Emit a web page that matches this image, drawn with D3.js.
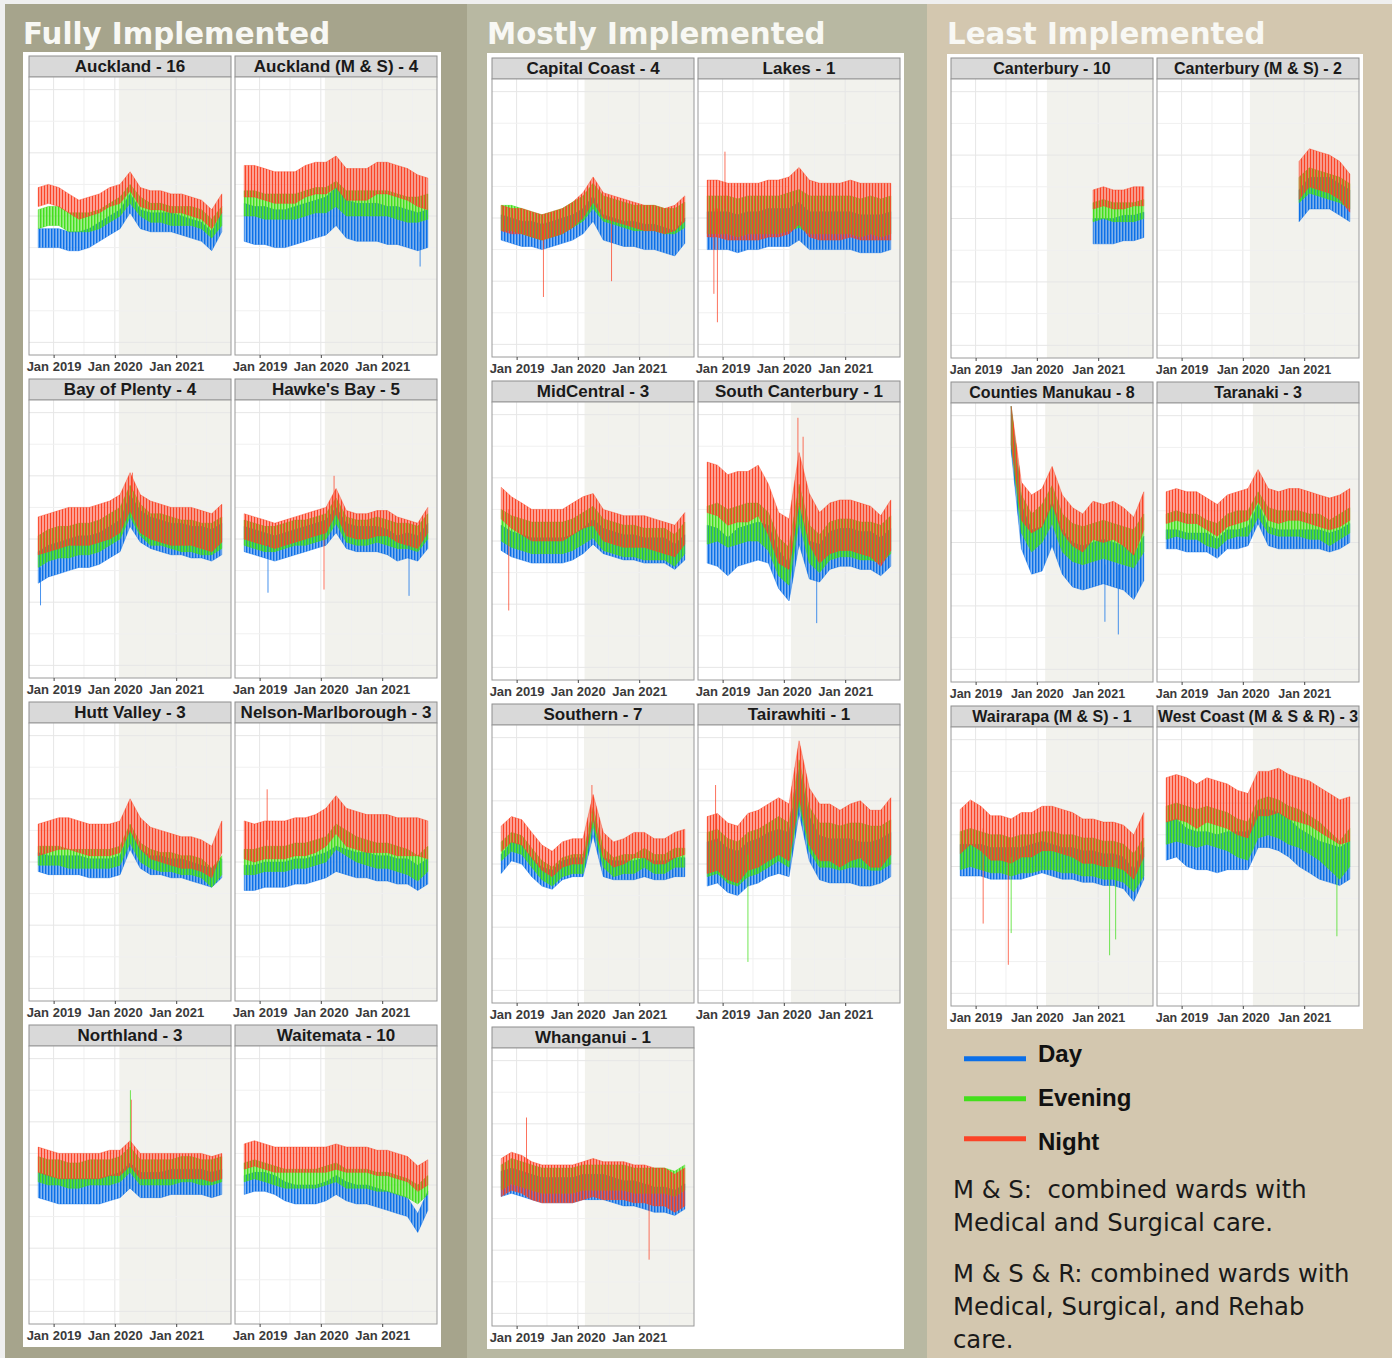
<!DOCTYPE html>
<meta charset="utf-8">
<script src="https://cdn.jsdelivr.net/npm/d3@7/dist/d3.min.js"></script>
<style>
  body { margin: 0; background: #efefef; }
  svg { display: block; }
</style>
<div id="chart"></div>
<script>
  // sample dates (every two months), shifts, axis ticks
  const dates = ["2018-10-01", "2018-12-01", "2019-02-01", "2019-04-01", "2019-06-01", "2019-08-01",
    "2019-10-01", "2019-12-01", "2020-02-01", "2020-04-01", "2020-06-01", "2020-08-01", "2020-10-01",
    "2020-12-01", "2021-02-01", "2021-04-01", "2021-06-01", "2021-08-01", "2021-09-30"];
  const shifts = ["Day", "Evening", "Night"];
  const tickDates = ["2019-01-01", "2020-01-01", "2021-01-01"];
  const tickLabels = ["Jan 2019", "Jan 2020", "Jan 2021"];
  const groups = ["Fully Implemented", "Mostly Implemented", "Least Implemented"];

  const facets = ["Auckland - 16", "Auckland (M & S) - 4", "Bay of Plenty - 4", "Hawke's Bay - 5",
    "Hutt Valley - 3", "Nelson-Marlborough - 3", "Northland - 3", "Waitemata - 10",
    "Capital Coast - 4", "Lakes - 1", "MidCentral - 3", "South Canterbury - 1", "Southern - 7",
    "Tairawhiti - 1", "Whanganui - 1",
    "Canterbury - 10", "Canterbury (M & S) - 2", "Counties Manukau - 8", "Taranaki - 3",
    "Wairarapa (M & S) - 1", "West Coast (M & S & R) - 3"];
  const facetGroup = [0, 0, 0, 0, 0, 0, 0, 0, 1, 1, 1, 1, 1, 1, 1, 2, 2, 2, 2, 2, 2];
  const implStart = ["2020-01-25", "2020-01-25", "2020-01-25", "2020-01-25", "2020-01-25", "2020-01-25",
    "2020-01-28", "2020-01-25", "2020-02-10", "2020-02-03", "2020-02-10", "2020-02-12", "2020-02-07",
    "2020-02-12", "2020-02-12", "2020-03-01", "2020-02-12", "2020-02-20", "2020-03-01", "2020-02-25",
    "2020-03-01"];

  const n = null;
  // centre of each shift's band, per facet
  const day = [
    [33, 33, 33, 32, 32, 33, 35, 37, 39, 44, 39, 38, 38, 38, 37, 36, 35, 32, 38],
    [38, 37, 37, 36, 36, 37, 38, 39, 40, 43, 39, 38, 38, 38, 37, 37, 36, 35, 36],
    [31, 33, 34, 35, 36, 36, 37, 39, 41, 49, 44, 42, 41, 40, 40, 39, 39, 38, 40],
    [40, 39, 38, 37, 38, 39, 40, 41, 42, 46, 41, 40, 40, 40, 39, 37, 38, 37, 41],
    [40, 39, 39, 39, 39, 38, 38, 38, 39, 47, 41, 39, 39, 38, 38, 37, 36, 35, 38],
    [35, 35, 36, 36, 36, 37, 37, 38, 39, 41, 40, 39, 39, 38, 38, 37, 37, 35, 37],
    [40, 39, 38, 38, 38, 38, 38, 39, 40, 43, 40, 40, 40, 41, 41, 41, 41, 40, 41],
    [40, 41, 41, 40, 38, 37, 37, 37, 38, 40, 38, 37, 37, 36, 35, 34, 33, 28, 35],
    [37, 36, 35, 35, 34, 35, 36, 37, 39, 43, 37, 36, 35, 35, 34, 34, 33, 32, 36],
    [36, 36, 36, 35, 36, 36, 37, 37, 37, 39, 36, 36, 36, 36, 36, 35, 35, 35, 36],
    [41, 39, 38, 37, 37, 37, 37, 38, 40, 43, 40, 39, 38, 38, 37, 37, 37, 35, 38],
    [39, 38, 35, 38, 39, 40, 39, 31, 27, 45, 34, 33, 37, 38, 38, 37, 37, 35, 38],
    [40, 44, 43, 39, 36, 35, 38, 39, 39, 52, 39, 38, 38, 38, 39, 38, 38, 39, 39],
    [40, 41, 38, 37, 40, 41, 43, 44, 43, 63, 48, 42, 41, 41, 41, 40, 40, 41, 43],
    [41, 42, 41, 40, 39, 39, 39, 39, 40, 40, 40, 39, 38, 38, 37, 36, 36, 35, 37],
    [n, n, n, n, n, n, n, n, n, n, n, n, n, 36, 36, 36, 37, 37, 38],
    [n, n, n, n, n, n, n, n, n, n, n, n, n, 44, 48, 48, 48, 46, 44],
    [n, n, n, n, n, 76, 45, 37, 38, 46, 37, 33, 32, 33, 34, 33, 32, 29, 35],
    [41, 41, 40, 40, 40, 38, 41, 41, 42, 49, 42, 41, 41, 41, 41, 41, 40, 41, 43],
    [42, 42, 42, 41, 41, 41, 41, 42, 43, 42, 41, 41, 40, 40, 39, 39, 38, 34, 41],
    [48, 49, 46, 45, 45, 44, 45, 45, 45, 52, 52, 51, 49, 46, 44, 42, 41, 40, 42]
  ];
  const evening = [
    [39, 40, 40, 38, 38, 38, 39, 41, 43, 47, 43, 41, 41, 40, 40, 40, 39, 36, 40],
    [44, 44, 43, 43, 43, 43, 44, 45, 45, 47, 44, 44, 44, 44, 44, 43, 42, 42, 43],
    [36, 38, 39, 39, 40, 40, 41, 43, 45, 52, 46, 43, 43, 42, 41, 41, 40, 40, 42],
    [42, 41, 40, 40, 41, 42, 42, 43, 44, 49, 43, 42, 42, 43, 42, 41, 41, 40, 44],
    [42, 42, 42, 41, 41, 41, 41, 41, 42, 49, 43, 41, 40, 40, 39, 39, 38, 35, 39],
    [40, 40, 41, 41, 41, 42, 42, 43, 44, 48, 46, 44, 43, 42, 42, 41, 40, 38, 41],
    [45, 44, 44, 43, 43, 44, 44, 44, 45, 48, 44, 44, 44, 44, 45, 45, 44, 44, 45],
    [44, 45, 44, 43, 42, 42, 42, 42, 43, 44, 42, 42, 42, 41, 41, 40, 39, 37, 40],
    [40, 40, 39, 38, 37, 38, 39, 41, 43, 47, 43, 42, 41, 40, 40, 40, 39, 39, 41],
    [41, 41, 41, 40, 41, 41, 41, 41, 42, 43, 41, 41, 41, 41, 41, 40, 41, 40, 41],
    [45, 43, 42, 41, 41, 41, 41, 42, 44, 46, 42, 41, 40, 40, 39, 39, 39, 37, 41],
    [45, 46, 44, 45, 46, 46, 43, 35, 32, 52, 39, 36, 40, 41, 41, 40, 40, 39, 42],
    [44, 47, 46, 42, 38, 36, 39, 40, 40, 55, 42, 39, 40, 40, 42, 40, 40, 42, 42],
    [43, 44, 41, 40, 43, 44, 46, 48, 46, 66, 51, 46, 46, 45, 46, 46, 45, 45, 47],
    [43, 45, 44, 43, 42, 42, 42, 42, 43, 43, 43, 43, 43, 42, 42, 42, 42, 41, 43],
    [n, n, n, n, n, n, n, n, n, n, n, n, n, 42, 43, 42, 42, 42, 43],
    [n, n, n, n, n, n, n, n, n, n, n, n, n, 49, 52, 51, 50, 49, 47],
    [n, n, n, n, n, 77, 49, 43, 46, 52, 43, 40, 39, 40, 41, 40, 39, 38, 43],
    [45, 46, 45, 45, 43, 42, 45, 46, 46, 52, 47, 46, 46, 46, 45, 45, 43, 45, 47],
    [45, 46, 45, 44, 44, 43, 44, 44, 45, 45, 44, 44, 43, 43, 42, 42, 41, 38, 43],
    [53, 54, 53, 52, 53, 52, 51, 49, 48, 55, 56, 55, 53, 52, 50, 48, 45, 42, 46]
  ];
  const night = [
    [46, 47, 46, 44, 42, 43, 44, 46, 47, 51, 46, 45, 45, 44, 44, 43, 42, 39, 44],
    [51, 51, 50, 49, 49, 49, 51, 52, 52, 54, 50, 50, 50, 52, 52, 51, 50, 48, 47],
    [41, 42, 43, 44, 44, 44, 45, 46, 48, 55, 48, 46, 45, 44, 44, 44, 43, 42, 45],
    [44, 43, 42, 41, 42, 43, 44, 45, 46, 52, 45, 44, 44, 45, 45, 43, 42, 41, 46],
    [47, 48, 49, 49, 48, 47, 47, 47, 48, 55, 49, 46, 45, 44, 43, 43, 42, 40, 48],
    [47, 46, 47, 47, 47, 48, 48, 49, 51, 55, 51, 50, 49, 49, 49, 48, 48, 48, 47],
    [48, 47, 46, 46, 46, 46, 46, 47, 47, 50, 46, 46, 46, 46, 46, 46, 46, 45, 46],
    [49, 50, 49, 48, 48, 48, 48, 48, 48, 49, 48, 48, 48, 47, 47, 46, 45, 42, 44],
    [40, 39, 39, 38, 37, 38, 39, 41, 44, 49, 44, 43, 42, 41, 40, 40, 39, 40, 43],
    [43, 43, 42, 42, 42, 42, 43, 43, 44, 47, 43, 42, 42, 42, 43, 42, 42, 42, 42],
    [52, 49, 47, 45, 45, 45, 45, 47, 49, 50, 45, 44, 43, 43, 43, 42, 41, 40, 44],
    [57, 56, 53, 54, 54, 56, 50, 41, 39, 60, 47, 41, 44, 45, 45, 44, 43, 40, 45],
    [48, 51, 50, 46, 42, 40, 43, 44, 44, 58, 46, 43, 44, 46, 46, 44, 44, 46, 47],
    [46, 47, 44, 43, 47, 48, 50, 52, 50, 70, 55, 50, 50, 48, 50, 51, 48, 48, 52],
    [43, 45, 44, 42, 41, 41, 41, 41, 42, 43, 42, 42, 42, 41, 41, 40, 40, 38, 40],
    [n, n, n, n, n, n, n, n, n, n, n, n, n, 46, 47, 46, 46, 47, 47],
    [n, n, n, n, n, n, n, n, n, n, n, n, n, 52, 56, 55, 54, 52, 48],
    [n, n, n, n, n, 77, 53, 49, 51, 58, 49, 45, 43, 47, 46, 47, 45, 42, 50],
    [51, 52, 51, 51, 49, 47, 50, 51, 52, 58, 52, 51, 52, 52, 51, 50, 49, 50, 52],
    [51, 54, 52, 49, 49, 48, 50, 50, 52, 52, 51, 50, 48, 48, 47, 47, 46, 43, 50],
    [61, 62, 61, 59, 61, 60, 59, 57, 56, 63, 63, 64, 62, 61, 60, 58, 56, 54, 55]
  ];
  // half-height of the day-to-day spread: [Day, Evening, Night]
  const spread = [[3, 3, 3], [6, 4, 5], [5, 5, 6], [4, 4, 4], [3, 3, 5], [4, 4, 6], [4, 4, 4],
    [3, 3, 4], [4, 4, 4], [6, 6, 9], [4, 5, 5], [6, 6, 8], [3, 3, 4], [7, 7, 9], [4, 4, 6],
    [4, 3, 3], [5, 4, 6], [7, 6, 6], [3, 4, 5], [5, 6, 7], [6, 6, 7]];
  // single-day outliers: [facet, shift, date, band level, value]
  const spikes = [
    [1, 0, "2021-08-15", 35, 24], [2, 0, "2018-10-15", 31, 19], [2, 2, "2020-04-15", 55, 61],
    [3, 0, "2019-02-20", 38, 23], [3, 0, "2021-06-10", 38, 22], [3, 2, "2020-01-20", 45, 24],
    [3, 2, "2020-03-20", 50, 60], [5, 2, "2019-02-15", 47, 63], [6, 2, "2020-04-08", 50, 67],
    [6, 1, "2020-04-03", 48, 70], [8, 2, "2019-06-10", 38, 15], [8, 2, "2020-07-20", 44, 20],
    [9, 2, "2018-11-10", 43, 16], [9, 2, "2018-12-01", 43, 7], [9, 2, "2019-01-15", 43, 61],
    [10, 2, "2018-11-15", 50, 18], [11, 2, "2020-03-25", 55, 79], [11, 2, "2020-04-25", 55, 73],
    [11, 0, "2020-07-15", 34, 14], [12, 2, "2020-03-25", 56, 65], [13, 1, "2019-06-01", 43, 9],
    [13, 2, "2018-11-20", 47, 65], [14, 2, "2019-03-01", 44, 62], [14, 2, "2021-03-01", 41, 17],
    [17, 0, "2021-05-01", 33, 11], [17, 0, "2021-02-10", 33, 15], [19, 2, "2019-02-15", 52, 22],
    [19, 2, "2019-07-15", 49, 9], [19, 1, "2019-08-01", 43, 19], [19, 1, "2021-03-10", 42, 12],
    [19, 1, "2021-04-15", 42, 17], [20, 1, "2021-07-15", 44, 18]
  ];
  const noteLines = ["M & S:  combined wards with", "Medical and Surgical care.",
    "M & S & R: combined wards with", "Medical, Surgical, and Rehab", "care."];

  const W = 1392, H = 1358;
  const colors = ["#0b6fe8", "#43df1c", "#fb4327"];
  const colX = [5, 467, 927], colW = [462, 460, 465];
  const colFill = ["#a6a48c", "#b8b8a2", "#d3c7af"];
  const boxes = [{x: 23, y: 52, w: 418, h: 1295}, {x: 487, y: 53, w: 417, h: 1296}, {x: 947, y: 54, w: 416, h: 975}];
  const layout = [{x0: 29, top: 56, pitch: 323, ph: 278, fs: 17, ts: 13},
    {x0: 492, top: 58, pitch: 323, ph: 278, fs: 17, ts: 13},
    {x0: 951, top: 58, pitch: 324, ph: 279, fs: 16, ts: 12.5}];
  const pw = 202, gap = 4, stripH = 21;
  const parse = d3.timeParse("%Y-%m-%d");
  const xDomain = [parse("2018-10-01"), parse("2021-09-30")];
  const series = [day, evening, night];
  const sansBold = "'Liberation Sans', Arial, sans-serif";

  const svg = d3.select("#chart").append("svg").attr("width", W).attr("height", H);
  const defs = svg.append("defs");
  svg.append("rect").attr("width", W).attr("height", H).attr("fill", "#efefef");

  // fine vertical hatching so overlapping shifts stay visible side by side
  colors.forEach((col, k) => {
    defs.append("pattern").attr("id", "hatch" + k).attr("patternUnits", "userSpaceOnUse")
      .attr("width", 3).attr("height", 12)
      .append("rect").attr("x", k).attr("width", 1.4).attr("height", 12).attr("fill", col);
  });

  groups.forEach((name, c) => {
    svg.append("rect").attr("x", colX[c]).attr("y", 4).attr("width", colW[c]).attr("height", H - 4)
      .attr("fill", colFill[c]);
    svg.append("text").attr("x", boxes[c].x).attr("y", 44).text(name)
      .attr("font-family", "'DejaVu Sans', Verdana, sans-serif").attr("font-weight", "bold")
      .attr("font-size", 29.3).attr("fill", "#f8f8f4");
    svg.append("rect").attr("x", boxes[c].x).attr("y", boxes[c].y)
      .attr("width", boxes[c].w).attr("height", boxes[c].h).attr("fill", "#fff");
  });

  const counter = [0, 0, 0];
  facets.forEach((name, f) => {
    const c = facetGroup[f], j = counter[c]++;
    const L = layout[c];
    const left = L.x0 + (j % 2) * (pw + gap);
    const top = L.top + Math.floor(j / 2) * L.pitch + stripH;
    drawPanel(f, name, left, top, L);
  });

  function drawPanel(f, name, left, top, L) {
    const ph = L.ph;
    const g = svg.append("g");
    const x = d3.scaleTime().domain(xDomain).range([left + pw / 22, left + pw - pw / 22]);
    const y = d3.scaleLinear().domain([0, 80]).range([top + ph - ph / 22, top + ph / 22]);

    g.append("rect").attr("x", left).attr("y", top - stripH).attr("width", pw).attr("height", stripH)
      .attr("fill", "#d9d9d9").attr("stroke", "#8e8e8e");
    const label = g.append("text").attr("x", left + pw / 2).attr("y", top - 5.5).attr("text-anchor", "middle")
      .attr("font-family", sansBold).attr("font-weight", "bold").attr("font-size", L.fs)
      .attr("fill", "#1a1a1a").text(name);
    if (label.node().getComputedTextLength() > pw - 2) {
      label.attr("textLength", pw - 2).attr("lengthAdjust", "spacingAndGlyphs");
    }

    g.append("rect").attr("x", left).attr("y", top).attr("width", pw).attr("height", ph).attr("fill", "#fff");
    const xs = x(parse(implStart[f]));
    g.append("rect").attr("x", xs).attr("y", top).attr("width", left + pw - xs).attr("height", ph)
      .attr("fill", "#f2f2ed");

    const months = d3.timeMonth.every(6).range(parse("2018-07-01"), parse("2022-01-02"))
      .filter(d => x(d) > left && x(d) < left + pw);
    g.selectAll(".vg").data(months).join("line")
      .attr("x1", d => x(d)).attr("x2", d => x(d)).attr("y1", top).attr("y2", top + ph)
      .attr("stroke", d => d.getMonth() === 0 ? "#e6e6e6" : "#f0f0f0").attr("stroke-width", 1);
    g.selectAll(".hg").data(d3.range(0, 81, 10)).join("line")
      .attr("x1", left).attr("x2", left + pw).attr("y1", d => y(d)).attr("y2", d => y(d))
      .attr("stroke", d => d % 20 === 0 ? "#e6e6e6" : "#f0f0f0").attr("stroke-width", 1);

    const clipId = "clip" + f;
    defs.append("clipPath").attr("id", clipId).append("rect")
      .attr("x", left).attr("y", top).attr("width", pw).attr("height", ph);
    const plot = g.append("g").attr("clip-path", `url(#${clipId})`);

    series.forEach((s, k) => {
      const pts = dates.map((d, i) => ({date: parse(d), v: s[f][i]}));
      const w = spread[f][k];
      const area = d3.area().defined(p => p.v != null)
        .x(p => x(p.date)).y0(p => y(p.v - w)).y1(p => y(p.v + w));
      plot.append("path").datum(pts).attr("d", area)
        .attr("fill", colors[k]).attr("fill-opacity", 0.5);
      plot.append("path").datum(pts).attr("d", area)
        .attr("fill", `url(#hatch${k})`)
        .attr("stroke", colors[k]).attr("stroke-width", 0.7).attr("stroke-opacity", 0.6);
    });
    plot.selectAll(".spike").data(spikes.filter(s => s[0] === f)).join("line")
      .attr("x1", s => x(parse(s[2]))).attr("x2", s => x(parse(s[2])))
      .attr("y1", s => y(s[3])).attr("y2", s => y(s[4]))
      .attr("stroke", s => colors[s[1]]).attr("stroke-width", 1).attr("stroke-opacity", 0.75);

    g.append("rect").attr("x", left).attr("y", top).attr("width", pw).attr("height", ph)
      .attr("fill", "none").attr("stroke", "#9a9a9a");

    const axis = d3.axisBottom(x).tickValues(tickDates.map(parse))
      .tickFormat((d, i) => tickLabels[i]).tickSize(3).tickPadding(4);
    const ax = g.append("g").attr("transform", `translate(0,${top + ph})`).call(axis);
    ax.select(".domain").remove();
    ax.selectAll("line").attr("stroke", "#444");
    ax.selectAll("text").attr("fill", "#3a3a3a").attr("font-size", L.ts).attr("font-weight", "bold")
      .attr("font-family", sansBold);
  }

  // legend
  const legY = [1058.7, 1098.7, 1138.7], legText = [1061.7, 1106, 1150];
  shifts.forEach((s, k) => {
    svg.append("line").attr("x1", 964).attr("x2", 1026).attr("y1", legY[k]).attr("y2", legY[k])
      .attr("stroke", colors[k]).attr("stroke-width", 5);
    svg.append("text").attr("x", 1038).attr("y", legText[k]).text(s)
      .attr("font-family", sansBold).attr("font-weight", "bold").attr("font-size", 24).attr("fill", "#111");
  });
  const noteY = [1197.7, 1231, 1281.7, 1315, 1348.3];
  noteLines.forEach((t, i) => {
    svg.append("text").attr("x", 953).attr("y", noteY[i]).text(t)
      .attr("xml:space", "preserve").style("white-space", "pre")
      .attr("font-family", "'DejaVu Sans', Verdana, sans-serif").attr("font-size", 24.3).attr("fill", "#1a1a1a");
  });
</script>
